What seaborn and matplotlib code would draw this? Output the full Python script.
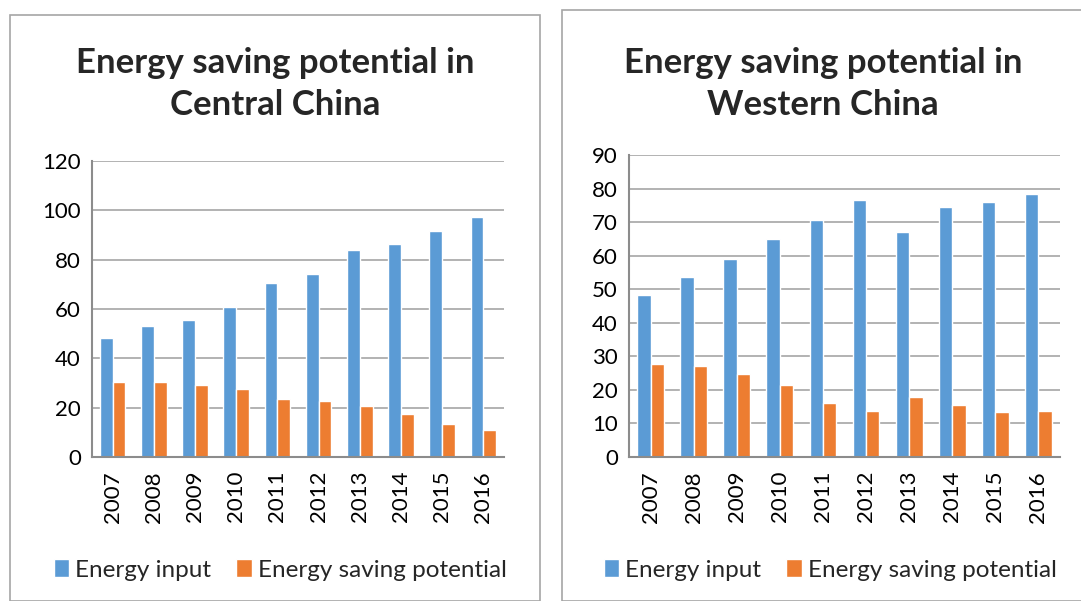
import pandas as pd
import matplotlib.pyplot as plt
import seaborn as sns
from matplotlib.patches import Rectangle

years = ["2007", "2008", "2009", "2010", "2011", "2012", "2013", "2014", "2015", "2016"]

central_input = [48.1, 53.0, 55.7, 60.7, 70.6, 74.3, 84.1, 86.4, 91.5, 97.1]
central_saving = [30.5, 30.6, 29.3, 27.5, 23.5, 22.7, 20.8, 17.4, 13.5, 10.9]

western_input = [48.2, 53.6, 58.9, 65.1, 70.5, 76.6, 67.2, 74.5, 75.9, 78.4]
western_saving = [27.7, 27.0, 24.7, 21.5, 16.0, 13.8, 18.0, 15.5, 13.3, 13.8]

series_names = ["Energy input", "Energy saving potential"]
colors = ["#5B9BD5", "#ED7D31"]

sns.set_style("white")
plt.rcParams['font.family'] = ['Lato', 'DejaVu Sans']

W, H = 1081, 601
fig = plt.figure(figsize=(W / 100, H / 100), dpi=100)


def to_long(inp, sav):
    """Build a long table for seaborn from two series."""
    df = pd.DataFrame({"Year": years * 2,
                       "Value": inp + sav,
                       "Series": [series_names[0]] * len(years) + [series_names[1]] * len(years)})
    return df


def draw_panel(rect, inp, sav, ymax, step, title, title_x, legend_x):
    ax = fig.add_axes(rect)
    df = to_long(inp, sav)
    sns.barplot(data=df, x="Year", y="Value", hue="Series", palette=colors,
                width=0.62, ax=ax, saturation=1, legend=True)
    ax.set_ylim(0, ymax)
    ax.set_yticks(range(0, ymax + 1, step))
    ax.set_xlim(-0.5, len(years) - 0.5)
    ax.set_xlabel("")
    ax.set_ylabel("")
    ax.grid(axis="y", color="#a6a6a6", linewidth=1.2)
    ax.set_axisbelow(True)
    for s in ["top", "right"]:
        ax.spines[s].set_visible(False)
    for s in ["left", "bottom"]:
        ax.spines[s].set_color("#8c8c8c")
        ax.spines[s].set_linewidth(1.5)
    ax.tick_params(axis="both", length=0, labelsize=16, colors="black", pad=8)
    ax.tick_params(axis="x", labelrotation=90, pad=10)
    handles, labels = ax.get_legend_handles_labels()
    ax.get_legend().remove()
    fig.legend(handles, labels, loc="center", bbox_to_anchor=(legend_x / W, 1 - 570 / H),
               ncol=2, frameon=False, fontsize=17.5, handlelength=0.65, handleheight=0.7,
               handletextpad=0.25, columnspacing=1.0)
    fig.text(title_x / W, 1 - 84 / H, title, ha="center", va="center",
             fontsize=25, fontweight="bold", linespacing=1.42)
    return ax


# panel borders
fig.patches.append(Rectangle((10 / W, 0), 530 / W, 1 - 15 / H, transform=fig.transFigure,
                             fill=False, edgecolor="#a6a6a6", linewidth=1.2))
fig.patches.append(Rectangle((562 / W, 0), 530 / W, 1 - 10 / H, transform=fig.transFigure,
                             fill=False, edgecolor="#a6a6a6", linewidth=1.2))

draw_panel([92 / W, 144 / H, 412 / W, 296 / H], central_input, central_saving, 120, 20,
           "Energy saving potential in\nCentral China", 275, 280)
draw_panel([629 / W, 144 / H, 431 / W, 302 / H], western_input, western_saving, 90, 10,
           "Energy saving potential in\nWestern China", 823, 830)

plt.savefig("out.png", dpi=100)
